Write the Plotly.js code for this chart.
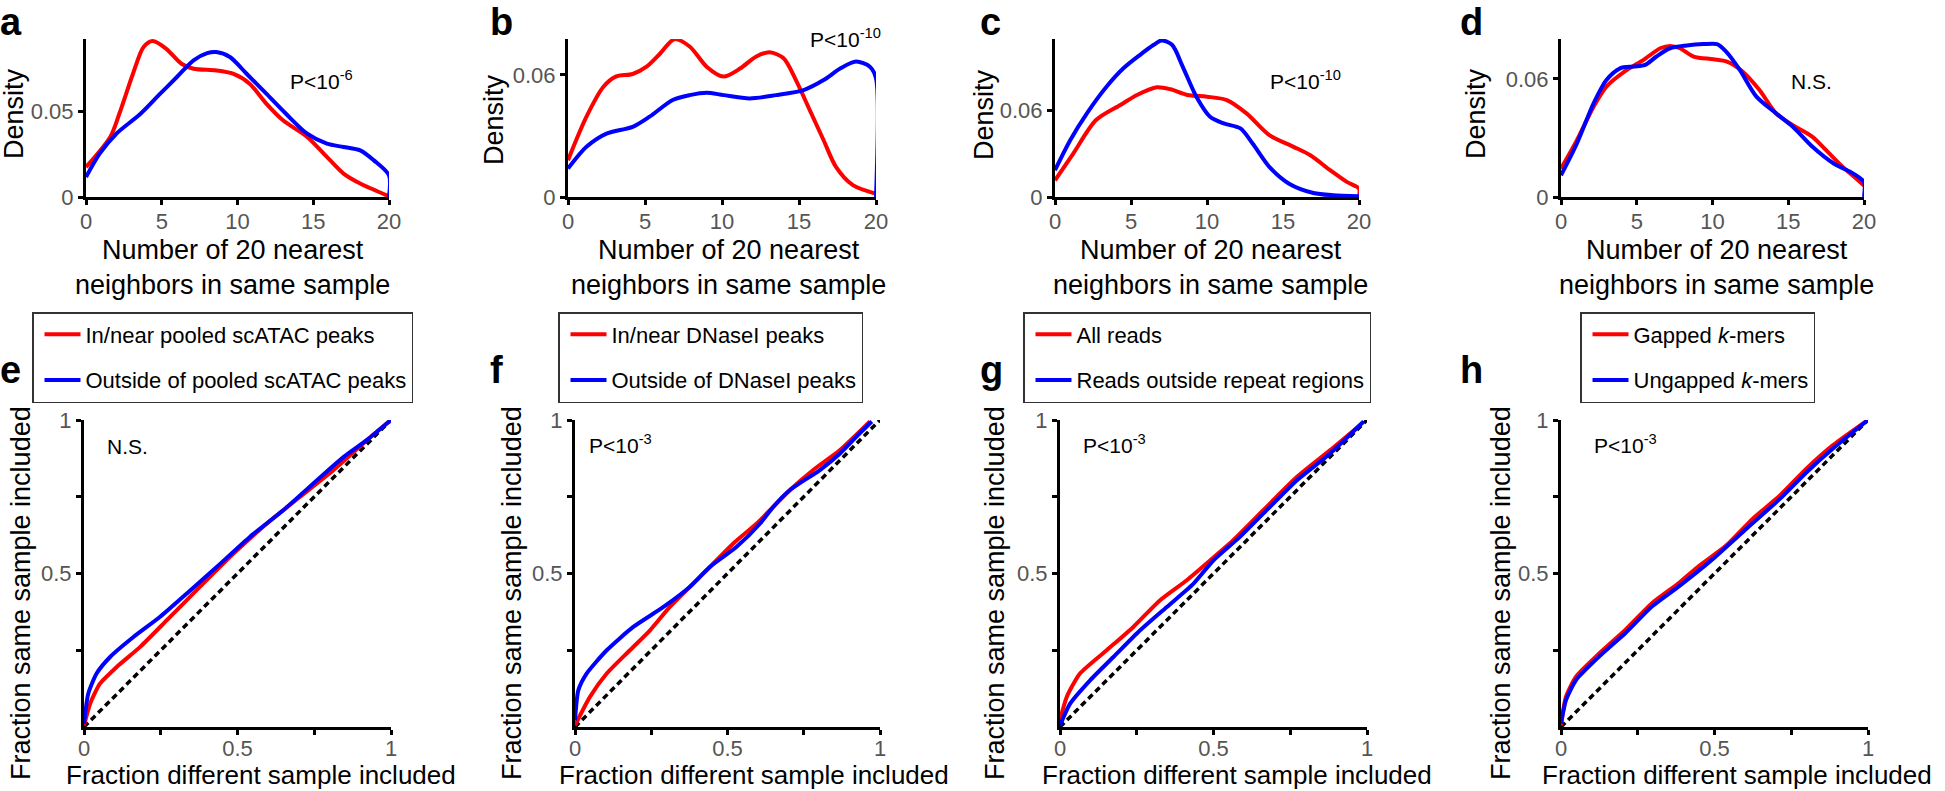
<!DOCTYPE html>
<html>
<head>
<meta charset="utf-8">
<script src="https://cdn.plot.ly/plotly-3.0.1.min.js"></script>
<style>html,body{margin:0;padding:0;background:#fff;}#chart{width:1945px;height:791px;}</style>
</head>
<body>
<div id="chart"></div>
<script>
// ---------- DATA ----------
// Panel a (density)
const aRedX  = [0,1.6,2.2,3.1,3.8,4.4,5.3,6.3,7.1,8.6,9.7,10.8,11.9,13.0,14.6,15.9,17.0,18.1,20];
const aRedY  = [0.0174,0.0349,0.0484,0.0717,0.0872,0.0907,0.0862,0.0775,0.0746,0.0736,0.0717,0.0659,0.0543,0.0446,0.0349,0.0233,0.0136,0.0078,0.0004];
const aBlueX = [0,0.9,2.0,3.6,4.9,6.0,7.1,8.0,8.6,9.5,10.6,11.9,13.2,14.6,15.9,17.0,18.1,19.0,20,20];
const aBlueY = [0.0116,0.0252,0.0368,0.0484,0.0601,0.0698,0.0795,0.0837,0.0843,0.0814,0.0717,0.0601,0.0484,0.0368,0.0310,0.0291,0.0271,0.0213,0.0126,0];
// Panel b
const bRedX  = [0,1.2,2.3,3.1,4.2,5.1,6.0,6.9,7.9,9.0,10.1,11.2,12.2,13.1,14.0,14.8,15.7,16.6,17.4,18.5,20];
const bRedY  = [0.0181,0.0395,0.0542,0.0592,0.0605,0.0641,0.0707,0.0776,0.0740,0.0641,0.0592,0.0633,0.0690,0.0712,0.0682,0.0575,0.0427,0.0279,0.0148,0.0058,0.0016];
const bBlueX = [0,1.2,2.5,4.2,5.3,6.8,7.9,9.0,10.1,11.8,13.5,15.3,16.6,17.7,18.7,19.6,20,20];
const bBlueY = [0.0140,0.0247,0.0312,0.0345,0.0395,0.0477,0.0501,0.0513,0.0501,0.0485,0.0501,0.0526,0.0575,0.0633,0.0666,0.0641,0.0584,0];
// Panel c
const cRedX  = [0,1.2,2.7,4.3,5.4,6.7,7.6,8.7,10.0,11.3,12.6,14.1,15.7,16.8,18.1,19.2,20,20];
const cRedY  = [0.0115,0.030,0.0531,0.0635,0.0704,0.0757,0.0743,0.0704,0.0692,0.0669,0.0577,0.0427,0.0346,0.0288,0.0185,0.0104,0.0058,0];
const cBlueX = [0,1.0,2.1,3.4,4.5,5.6,6.5,7.0,7.7,8.4,9.3,10.2,11.1,12.2,13.0,14.1,15.4,17.0,18.3,20];
const cBlueY = [0.0185,0.0392,0.0577,0.0762,0.0888,0.0981,0.105,0.108,0.105,0.090,0.0692,0.0554,0.0508,0.0473,0.0369,0.0208,0.0092,0.0028,0.0012,0.0005];
// Panel d
const dRedX  = [0,1.05,2.15,3.0,4.35,5.45,6.55,7.2,7.85,8.75,10.05,10.95,12.0,13.1,14.2,15.3,16.6,17.5,18.6,20];
const dRedY  = [0.0144,0.0289,0.0459,0.0561,0.0646,0.0697,0.0756,0.0768,0.0756,0.0714,0.0700,0.0688,0.0637,0.0544,0.0425,0.0365,0.0306,0.0238,0.0153,0.0059];
const dBlueX = [0,1.05,2.15,3.0,3.9,4.8,5.55,6.3,7.2,8.3,9.4,10.3,10.9,11.8,12.9,14.2,15.3,16.6,18.0,19.3,20,20];
const dBlueY = [0.0110,0.0272,0.0476,0.0595,0.0654,0.0663,0.0671,0.0714,0.0756,0.0770,0.0777,0.0777,0.0739,0.0646,0.0510,0.0425,0.0357,0.0255,0.0170,0.0119,0.0076,0];

// Panel e (fraction curves)
const eRedX  = [0,0.02,0.052,0.107,0.183,0.27,0.378,0.487,0.596,0.704,0.813,0.922,1];
const eRedY  = [0.005,0.076,0.141,0.196,0.261,0.348,0.457,0.565,0.663,0.75,0.837,0.935,1];
const eBlueX = [0,0.014,0.041,0.085,0.161,0.248,0.335,0.433,0.541,0.65,0.759,0.846,0.922,1];
const eBlueY = [0.01,0.109,0.174,0.228,0.293,0.359,0.435,0.522,0.62,0.707,0.804,0.88,0.935,1];
// Panel f
const fRedX  = [0,0.049,0.104,0.18,0.246,0.311,0.377,0.443,0.519,0.596,0.65,0.705,0.781,0.869,0.967];
const fRedY  = [0.005,0.098,0.174,0.25,0.315,0.391,0.457,0.522,0.598,0.663,0.717,0.772,0.837,0.902,0.995];
const fBlueX = [0,0.011,0.038,0.104,0.191,0.29,0.377,0.443,0.53,0.607,0.65,0.705,0.803,0.869,0.923,0.973];
const fBlueY = [0.022,0.12,0.174,0.25,0.326,0.391,0.457,0.522,0.587,0.663,0.717,0.772,0.837,0.891,0.946,0.995];
// Panel g
const gRedX  = [0,0.022,0.065,0.152,0.239,0.326,0.413,0.478,0.565,0.663,0.772,0.88,0.978];
const gRedY  = [0.022,0.098,0.174,0.25,0.326,0.413,0.478,0.533,0.609,0.707,0.815,0.902,0.984];
const gBlueX = [0,0.033,0.098,0.174,0.261,0.348,0.435,0.5,0.587,0.674,0.772,0.88,0.989];
const gBlueY = [0.005,0.076,0.152,0.228,0.315,0.391,0.467,0.543,0.62,0.707,0.804,0.891,0.995];
// Panel h
const hRedX  = [0,0.016,0.049,0.125,0.21,0.297,0.385,0.45,0.537,0.624,0.713,0.8,0.886,1];
const hRedY  = [0.005,0.098,0.164,0.24,0.317,0.404,0.47,0.525,0.59,0.678,0.754,0.842,0.918,1];
const hBlueX = [0,0.016,0.049,0.125,0.21,0.297,0.385,0.493,0.603,0.713,0.8,0.886,1];
const hBlueY = [0.011,0.087,0.153,0.23,0.306,0.393,0.459,0.546,0.645,0.743,0.83,0.907,1];
// Diagonal reference
const diagX = [0,1];
const diagY = [0,1];

// Labels
const panelLetters = ['a','b','c','d','e','f','g','h'];
const densityTicks = [[0,0.05],[0,0.06],[0,0.06],[0,0.06]];
const densityTickText = [['0','0.05'],['0','0.06'],['0','0.06'],['0','0.06']];
const densityTop = [0.0919,0.0777,0.109,0.0803];
const nnTicks = [0,5,10,15,20];
const fracXTicks = [0,0.5,1];
const fracXText = ['0','0.5','1'];
const fracYTicks = [0.5,1];
const fracYText = ['0.5','1'];
const fracMinor = [0.25,0.75];
const pTexts = ['P&lt;10<sup>-6</sup>','P&lt;10<sup>-10</sup>','P&lt;10<sup>-10</sup>','N.S.','N.S.','P&lt;10<sup>-3</sup>','P&lt;10<sup>-3</sup>','P&lt;10<sup>-3</sup>'];
const legendRed  = ['In/near pooled scATAC peaks','In/near DNaseI peaks','All reads','Gapped <i>k</i>-mers'];
const legendBlue = ['Outside of pooled scATAC peaks','Outside of DNaseI peaks','Reads outside repeat regions','Ungapped <i>k</i>-mers'];

// ---------- LAYOUT GEOMETRY (pixels) ----------
const W = 1945, H = 791;
const FONT = 'Liberation Sans, Arial, Helvetica, sans-serif';
const RED = '#ff0000', BLUE = '#0000ff';
const topXpx = [[86,389],[568,876],[1055,1359],[1561,1864]];
const topYpx = [39,197];
const botXpx = [[84,391],[575,880],[1060,1367],[1561,1868]];
const botYpx = [420,727];

function xd(p){return [p[0]/W, p[1]/W];}
function yd(p){return [1-p[1]/H, 1-p[0]/H];}

const baseAxis = {
  showline:true, linewidth:3, linecolor:'#000', mirror:false,
  ticks:'outside', ticklen:5, tickwidth:3, tickcolor:'#000',
  showgrid:false, zeroline:false, fixedrange:true,
  tickfont:{family:FONT, size:22, color:'#555'}
};
const minorTicks = {tickmode:'array', tickvals:fracMinor, ticks:'outside', ticklen:5, tickwidth:3, tickcolor:'#000', showgrid:false};

const topSeries = [[aRedX,aRedY,aBlueX,aBlueY],[bRedX,bRedY,bBlueX,bBlueY],[cRedX,cRedY,cBlueX,cBlueY],[dRedX,dRedY,dBlueX,dBlueY]];
const botSeries = [[eRedX,eRedY,eBlueX,eBlueY],[fRedX,fRedY,fBlueX,fBlueY],[gRedX,gRedY,gBlueX,gBlueY],[hRedX,hRedY,hBlueX,hBlueY]];

const traces = [];
const layout = {
  width:W, height:H, margin:{l:0,r:0,t:0,b:0},
  paper_bgcolor:'#fff', plot_bgcolor:'#fff',
  hovermode:false, showlegend:true,
  font:{family:FONT, color:'#000'},
  annotations:[]
};

const legendNames = ['legend','legend2','legend3','legend4'];
const legendBoxes = [[32,312],[558,312],[1023,312],[1580,312]];

for (let i=0;i<4;i++){
  // top row: density curves
  const ax = 'x'+(i===0?'':(i+1)), ay = 'y'+(i===0?'':(i+1));
  const s = topSeries[i];
  traces.push({x:s[0],y:s[1],xaxis:ax,yaxis:ay,type:'scatter',mode:'lines',line:{color:RED,width:4,shape:'spline',smoothing:0.8},showlegend:false});
  traces.push({x:s[2],y:s[3],xaxis:ax,yaxis:ay,type:'scatter',mode:'lines',line:{color:BLUE,width:4,shape:'spline',smoothing:0.8},showlegend:false});
  const xk = 'xaxis'+(i===0?'':(i+1)), yk = 'yaxis'+(i===0?'':(i+1));
  layout[xk] = Object.assign({}, baseAxis, {domain:xd(topXpx[i]), range:[0,20], tickvals:nnTicks, ticktext:nnTicks.map(String), anchor:ay, ticklabelstandoff:-2});
  layout[yk] = Object.assign({}, baseAxis, {domain:yd(topYpx), range:[0,densityTop[i]], tickvals:densityTicks[i], ticktext:densityTickText[i], anchor:ax});

  // bottom row: fraction curves
  const j = i+5;
  const bx = 'x'+j, by = 'y'+j;
  const b = botSeries[i];
  traces.push({x:diagX,y:diagY,xaxis:bx,yaxis:by,type:'scatter',mode:'lines',line:{color:'#000',width:3.5,dash:'6px,4px'},showlegend:false});
  traces.push({x:b[0],y:b[1],xaxis:bx,yaxis:by,type:'scatter',mode:'lines',name:legendRed[i],legend:legendNames[i],legendgroup:'r'+i,line:{color:RED,width:4,shape:'spline',smoothing:0.6}});
  traces.push({x:b[2],y:b[3],xaxis:bx,yaxis:by,type:'scatter',mode:'lines',name:legendBlue[i],legend:legendNames[i],legendgroup:'b'+i,line:{color:BLUE,width:4,shape:'spline',smoothing:0.6}});
  layout['xaxis'+j] = Object.assign({}, baseAxis, {domain:xd(botXpx[i]), range:[0,1], tickvals:fracXTicks, ticktext:fracXText, anchor:by, minor:minorTicks, ticklabelstandoff:-5});
  layout['yaxis'+j] = Object.assign({}, baseAxis, {domain:yd(botYpx), range:[0,1], tickvals:fracYTicks, ticktext:fracYText, anchor:bx, minor:minorTicks});

  layout[legendNames[i]] = {
    x:legendBoxes[i][0]/W, y:1-legendBoxes[i][1]/H, xanchor:'left', yanchor:'top',
    bgcolor:'#fff', bordercolor:'#333', borderwidth:1.5,
    font:{family:FONT, size:22, color:'#000'},
    traceorder:'grouped', tracegroupgap:14, itemwidth:36, indentation:6
  };
}

// annotations helper
function ann(text, px, py, opts){
  layout.annotations.push(Object.assign({
    text:text, x:px/W, y:1-py/H, xref:'paper', yref:'paper',
    showarrow:false, xanchor:'center', yanchor:'middle',
    borderpad:0, borderwidth:0,
    font:{family:FONT, size:21, color:'#000'}
  }, opts||{}));
}

// panel letters
const letterPos = [[0,1],[490,1],[980,1],[1460,1],[0,349],[490,349],[980,349],[1460,349]];
panelLetters.forEach((L,k)=>ann('<b>'+L+'</b>', letterPos[k][0], letterPos[k][1], {xanchor:'left', yanchor:'top', font:{family:FONT,size:38,color:'#000'}}));

// p-values
const pPos = [[321,80],[845,38],[1305,80],[1811,82],[128,446],[620,444],[1114,444],[1625,444]];
pTexts.forEach((t,k)=>ann(t, pPos[k][0], pPos[k][1]));

// axis titles (top)
const topXTitle = [232,728,1210,1716];
const densityPos = [[14,114],[494,120],[984,115],[1476,114]];
for (let i=0;i<4;i++){
  ann('Number of 20 nearest<br>neighbors in same sample', topXTitle[i], 267, {font:{family:FONT,size:27,color:'#000'}});
  ann('Density', densityPos[i][0], densityPos[i][1], {textangle:-90, font:{family:FONT,size:27,color:'#000'}});
}
// axis titles (bottom)
const botXTitle = [261,754,1237,1737];
const botYTitle = [21,512,995,1501];
for (let i=0;i<4;i++){
  ann('Fraction different sample included', botXTitle[i], 775, {font:{family:FONT,size:26,color:'#000'}});
  ann('Fraction same sample included', botYTitle[i], 593, {textangle:-90, font:{family:FONT,size:27,color:'#000'}});
}

Plotly.newPlot('chart', traces, layout, {staticPlot:true, displayModeBar:false});
</script>
</body>
</html>
